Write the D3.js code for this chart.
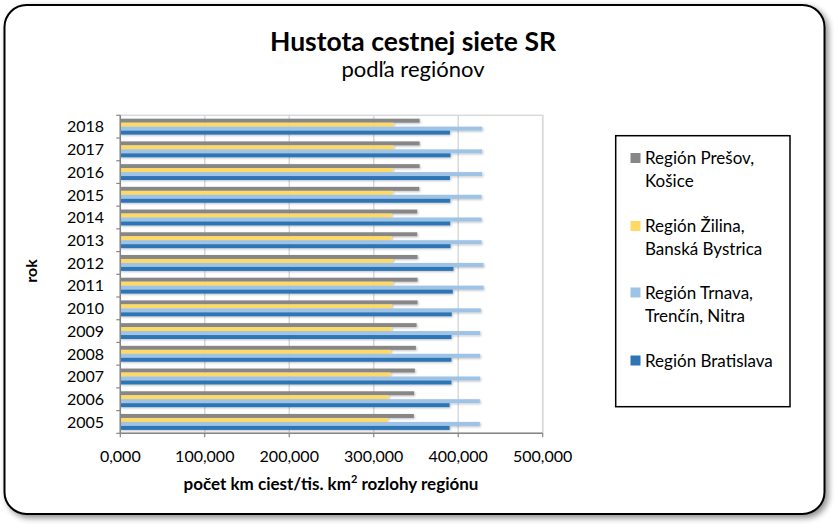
<!DOCTYPE html>
<html><head><meta charset="utf-8">
<script src="https://cdn.jsdelivr.net/npm/d3@7"></script>
<style>
html,body{margin:0;padding:0;background:#fff;}
text{font-family:Lato,"Open Sans",sans-serif;}
</style></head>
<body>
<svg id="chart" width="838" height="528"></svg>
<script>
const years = ["2005","2006","2007","2008","2009","2010","2011","2012","2013","2014","2015","2016","2017","2018"];
const seriesNames = ["Región Prešov, Košice","Región Žilina, Banská Bystrica","Región Trnava, Trenčín, Nitra","Región Bratislava"];
const presov     = [347.5,347.9,348.7,349.9,350.7,351.9,351.9,351.9,351.5,351.5,353.9,354.3,354.3,354.3];
const zilina     = [316.4,317.6,319.9,320.3,321.1,321.5,322.7,322.7,321.1,321.1,322.3,322.3,323.5,323.5];
const trnava     = [425.6,425.6,426.0,426.0,426.0,426.8,430.0,430.0,427.6,427.6,427.6,428.4,428.4,428.4];
const bratislava = [389.8,389.8,392.0,392.0,392.0,392.4,393.6,394.4,390.9,390.6,390.6,390.2,390.9,390.2];
const xTicks = [0,100,200,300,400,500];
const xTickLabels = ["0,000","100,000","200,000","300,000","400,000","500,000"];
const colors = ["#878787","#ffd966","#9dc3e6","#2e75b6"];
const legendLines = [["Región Prešov,","Košice"],["Región Žilina,","Banská Bystrica"],["Región Trnava,","Trenčín, Nitra"],["Región Bratislava"]];

const svg = d3.select("#chart");
const defs = svg.append("defs");
const f = defs.append("filter").attr("id","shadow").attr("x","-5%").attr("y","-5%").attr("width","115%").attr("height","115%");
f.append("feGaussianBlur").attr("in","SourceAlpha").attr("stdDeviation",3);
f.append("feOffset").attr("dx",3).attr("dy",3).attr("result","b");
f.append("feComponentTransfer").append("feFuncA").attr("type","linear").attr("slope",0.45);
const m = f.append("feMerge"); m.append("feMergeNode"); m.append("feMergeNode").attr("in","SourceGraphic");

const bf = defs.append("filter").attr("id","barshadow").attr("x","-2%").attr("y","-50%").attr("width","104%").attr("height","200%");
bf.append("feGaussianBlur").attr("in","SourceAlpha").attr("stdDeviation",1);
bf.append("feOffset").attr("dx",1).attr("dy",1);
bf.append("feComponentTransfer").append("feFuncA").attr("type","linear").attr("slope",0.25);
const bm = bf.append("feMerge"); bm.append("feMergeNode"); bm.append("feMergeNode").attr("in","SourceGraphic");

// outer frame
svg.append("rect").attr("x",4.5).attr("y",5).attr("width",820).attr("height",509)
  .attr("rx",22).attr("ry",22).attr("fill","#fff").attr("stroke","#000").attr("stroke-width",2)
  .attr("filter","url(#shadow)");

const pLeft = 120.3, pRight = 542.7, pTop = 115.3, pBottom = 433.3;
const x = d3.scaleLinear().domain([0,500]).range([pLeft,pRight]);
const y = d3.scaleBand().domain(years.slice().reverse()).range([pTop,pBottom]).paddingInner(0.3).paddingOuter(0.15);
const inner = d3.scaleBand().domain(d3.range(4)).range([0,y.bandwidth()]);

// plot area border & grid
svg.append("rect").attr("x",pLeft).attr("y",pTop).attr("width",pRight-pLeft).attr("height",pBottom-pTop)
  .attr("fill","none").attr("stroke","#d9d9d9").attr("stroke-width",1.5);
svg.append("g").selectAll("line").data(xTicks.slice(1)).join("line")
  .attr("x1",d=>x(d)).attr("x2",d=>x(d)).attr("y1",pTop).attr("y2",pBottom)
  .attr("stroke","#d9d9d9").attr("stroke-width",1.5);

// bars
const allSeries = [presov, zilina, trnava, bratislava];
const gBars = svg.append("g").attr("filter","url(#barshadow)");
allSeries.forEach((s,si)=>{
  gBars.append("g").selectAll("rect").data(years.map((yr,i)=>({yr,v:s[i]}))).join("rect")
    .attr("x",x(0)).attr("y",d=>y(d.yr)+inner(si)).attr("width",d=>x(d.v)-x(0)).attr("height",inner.bandwidth())
    .attr("fill",colors[si]);
});

// y axis
const ya = svg.append("g");
ya.append("line").attr("x1",pLeft).attr("x2",pLeft).attr("y1",pTop).attr("y2",pBottom).attr("stroke","#868686").attr("stroke-width",1.5);
const step = (pBottom-pTop)/years.length;
ya.selectAll(".yt").data(d3.range(years.length+1)).join("line").attr("class","yt")
  .attr("x1",pLeft-4).attr("x2",pLeft).attr("y1",i=>pTop+i*step).attr("y2",i=>pTop+i*step).attr("stroke","#868686").attr("stroke-width",1.2);
ya.selectAll("text").data(years).join("text")
  .attr("x",104).attr("y",d=>y(d)+y.bandwidth()/2).attr("dy","0.36em").attr("text-anchor","end")
  .attr("font-size",16).attr("fill","#000").text(d=>d);

// x axis
const xa = svg.append("g");
xa.append("line").attr("x1",pLeft).attr("x2",pRight).attr("y1",pBottom).attr("y2",pBottom).attr("stroke","#868686").attr("stroke-width",1.5);
xa.selectAll(".xt").data(xTicks).join("line").attr("class","xt")
  .attr("x1",d=>x(d)).attr("x2",d=>x(d)).attr("y1",pBottom).attr("y2",pBottom+4).attr("stroke","#868686").attr("stroke-width",1.2);
xa.selectAll("text").data(xTicks).join("text")
  .attr("x",d=>x(d)).attr("y",461.5).attr("text-anchor","middle").attr("font-size",16).attr("fill","#000")
  .text((d,i)=>xTickLabels[i]);

// axis titles
const xt = svg.append("text").attr("x",331).attr("y",490).attr("text-anchor","middle")
  .attr("font-size",17).attr("font-weight","bold").attr("fill","#000");
xt.append("tspan").text("počet km ciest/tis. km");
xt.append("tspan").attr("font-size",11).attr("dy",-7).text("2");
xt.append("tspan").attr("dy",7).text(" rozlohy regiónu");

svg.append("text").attr("transform","translate(36.5,271) rotate(-90)").attr("text-anchor","middle")
  .attr("font-size",16).attr("font-weight","bold").attr("fill","#000").text("rok");

// titles
svg.append("text").attr("x",413).attr("y",50.7).attr("text-anchor","middle").attr("font-size",26.5)
  .attr("font-weight","bold").attr("fill","#000").text("Hustota cestnej siete SR");
svg.append("text").attr("x",413).attr("y",77).attr("text-anchor","middle").attr("font-size",22)
  .attr("fill","#000").text("podľa regiónov");

// legend
svg.append("rect").attr("x",615.7).attr("y",135.7).attr("width",174.3).attr("height",271)
  .attr("fill","#fff").attr("stroke","#000").attr("stroke-width",1.5);
const lg = svg.append("g");
const itemY = [164, 232, 298.5, 366.5];
legendLines.forEach((lines,i)=>{
  lg.append("rect").attr("x",630.5).attr("y",itemY[i]-11).attr("width",10).attr("height",10).attr("fill",colors[i]);
  lines.forEach((ln,j)=>{
    lg.append("text").attr("x",645).attr("y",itemY[i]+j*23).attr("font-size",17).attr("fill","#000").text(ln);
  });
});
</script>
</body></html>
